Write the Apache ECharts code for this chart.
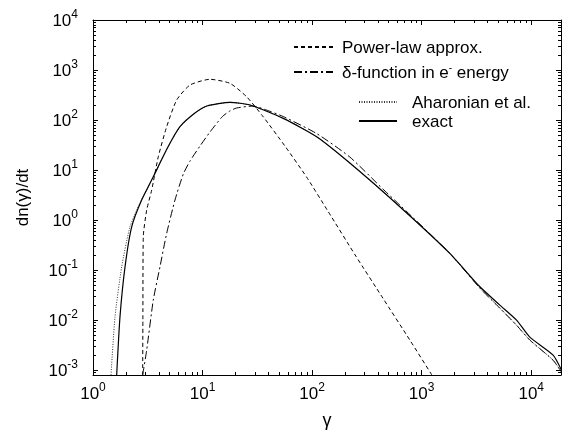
<!DOCTYPE html>
<html>
<head>
<meta charset="utf-8">
<script src="https://cdn.jsdelivr.net/npm/echarts@6/dist/echarts.min.js"></script>
<style>html,body{margin:0;padding:0;background:#fff}#c{width:562px;height:433px}</style>
</head>
<body>
<div id="c"></div>
<script>
// ---- data ----
const gammaPower = [2.841, 2.853, 2.877, 3.09, 3.433, 3.944, 4.704, 5.803, 7.674, 11.68, 17.78, 25.26, 35.8, 56.5, 89.1, 139.4, 250.9, 442.6, 780, 1239];
const powerLaw   = [8e-4, 0.01, 0.4634, 1.585, 3.98, 18.45, 73.5, 251, 501, 652, 542, 292, 116, 30.2, 7.24, 1.51, 0.19, 0.0275, 0.004, 8e-4];

const gammaDelta = [2.841, 3.09, 3.55, 4.087, 4.704, 5.6, 6.67, 7.674, 9.47, 11.68, 15.03, 17.41, 20.47, 28.84, 38.5, 54.5, 110, 221, 443, 632, 1807, 3400, 5170, 7350, 9710, 15850, 18900];
const deltaFn    = [8e-4, 0.00251, 0.0251, 0.1164, 0.542, 2.51, 8.32, 15.1, 30.2, 57.5, 115, 148, 174, 190.5, 158, 117.5, 53.7, 18.2, 4.17, 2.0, 0.216, 0.0437, 0.0174, 0.0079, 0.004, 0.00158, 9.1e-4];

const gammaAhar  = [1.46, 1.588, 1.827, 2.175, 2.68, 3.43, 4.83, 6.22, 8.52, 10.97, 17.8, 27.1, 54.5, 110, 221, 632, 1807, 3400, 5170, 7350, 9710, 15850, 18900];
const aharonian  = [8e-4, 0.0116, 0.116, 0.734, 2.19, 6.31, 28.8, 73.5, 138, 190.5, 226, 200, 108, 46.3, 13.8, 1.85, 0.216, 0.0437, 0.0174, 0.0079, 0.004, 0.00158, 9.1e-4];

const gammaExact = [1.645, 1.763, 1.96, 2.255, 2.78, 3.55, 4.83, 6.22, 8.52, 10.97, 17.8, 27.1, 54.5, 110, 221, 632, 1807, 3400, 5170, 7350, 9710, 15850, 18900];
const exact      = [8e-4, 0.0116, 0.116, 0.734, 2.51, 7.35, 28.8, 73.5, 138, 190.5, 226, 200, 108, 46.3, 13.8, 1.85, 0.216, 0.0464, 0.02, 0.01, 0.00457, 0.002, 0.001];

const xMajorTicks = [1, 10, 100, 1000, 10000];
const yMajorTicks = [1e-3, 1e-2, 1e-1, 1, 10, 100, 1000, 10000];

const names = ['Power-law approx.', 'δ-function in e- energy', 'Aharonian et al.', 'exact'];

// ---- helpers ----
const X_MIN = 1, X_MAX = 1.87e4, Y_MIN = 8e-4, Y_MAX = 1e4;
function minorTicks(lo, hi) {
  const out = [];
  for (let e = Math.floor(Math.log10(lo)); e <= Math.ceil(Math.log10(hi)); e++) {
    for (let m = 2; m <= 9; m++) {
      const v = m * Math.pow(10, e);
      if (v > lo && v < hi) out.push(v);
    }
  }
  return out;
}
const FONT = 'Liberation Sans, Arial, sans-serif';
const supRich = {
  b: { fontSize: 17, fontFamily: FONT, color: '#000', verticalAlign: 'bottom', lineHeight: 20 },
  s: { fontSize: 12, fontFamily: FONT, color: '#000', verticalAlign: 'bottom', padding: [0, 0, 9, 0], lineHeight: 20 }
};
function pow10Label(v) {
  const e = Math.round(Math.log10(v));
  return '{b|10}{s|' + e + '}';
}
function axis(pos, min, max, ticks, len, labels, line, margin, extra) {
  const a = {
    type: 'log', logBase: 10, min: min, max: max, position: pos,
    splitLine: { show: false },
    axisLine: { show: line, onZero: false, lineStyle: { color: '#000', width: 1 } },
    axisTick: { show: true, inside: true, length: len, customValues: ticks, lineStyle: { color: '#000', width: 1 } },
    axisLabel: labels ? { show: true, customValues: ticks, formatter: pow10Label, rich: supRich, margin: margin } : { show: false },
    axisPointer: { show: false }
  };
  return Object.assign(a, extra || {});
}
const xMinor = minorTicks(X_MIN, X_MAX);
const yMinor = minorTicks(Y_MIN, Y_MAX);

const xAxes = [
  axis('bottom', X_MIN, X_MAX, xMajorTicks, 5, true, true, 8, {
    name: 'γ', nameLocation: 'middle', nameGap: 37,
    nameTextStyle: { fontSize: 18, fontFamily: FONT, color: '#000' }
  }),
  axis('bottom', X_MIN, X_MAX, xMinor, 3, false, false),
  axis('top', X_MIN, X_MAX, xMajorTicks, 5, false, true),
  axis('top', X_MIN, X_MAX, xMinor, 3, false, false)
];
const yAxes = [
  axis('left', Y_MIN, Y_MAX, yMajorTicks, 5, true, true, 15, {
    name: 'dn(γ)/dt', nameLocation: 'middle', nameGap: 61, nameRotate: 90,
    nameTextStyle: { fontSize: 17, fontFamily: FONT, color: '#000' }
  }),
  axis('left', Y_MIN, Y_MAX, yMinor, 3, false, false),
  axis('right', Y_MIN, Y_MAX, yMajorTicks, 5, false, true),
  axis('right', Y_MIN, Y_MAX, yMinor, 3, false, false)
];

function zip(xs, ys) { return xs.map((x, i) => [x, ys[i]]); }
function lineSeries(name, xs, ys, type, color, width) {
  return {
    name: name, type: 'line', xAxisIndex: 0, yAxisIndex: 0,
    data: zip(xs, ys), symbol: 'none', smooth: 0.2, clip: true,
    lineStyle: { color: color, width: width, type: type },
    itemStyle: { color: color },
    emphasis: { disabled: true }, silent: true
  };
}

const legendText = {
  fontSize: 17, fontFamily: FONT, color: '#000', padding: [0, 0, 0, 4],
  rich: {
    t: { fontSize: 17, fontFamily: FONT, color: '#000', verticalAlign: 'bottom', lineHeight: 20 },
    s: { fontSize: 10, fontFamily: FONT, color: '#000', verticalAlign: 'bottom', padding: [0, 0, 9, 0], lineHeight: 20 }
  }
};
function legendFmt(n) {
  if (n.indexOf('e- energy') >= 0) return '{t|δ-function in e}{s|-}{t| energy}';
  return '{t|' + n + '}';
}

const option = {
  animation: false,
  backgroundColor: '#fff',
  grid: { left: 93, top: 20, right: 1, bottom: 58, outerBoundsMode: 'none', containLabel: false },
  xAxis: xAxes,
  yAxis: yAxes,
  legend: [
    { data: [names[0], names[1]], orient: 'vertical', left: 288, top: 35, itemWidth: 39, itemHeight: 14, itemGap: 6,
      itemStyle: { opacity: 0 }, textStyle: legendText, formatter: legendFmt, selectedMode: false },
    { data: [names[2], names[3]], orient: 'vertical', left: 353, top: 90, itemWidth: 38, itemHeight: 14, itemGap: 2,
      itemStyle: { opacity: 0 }, textStyle: Object.assign({}, legendText, { padding: [0, 0, 0, 10] }), formatter: legendFmt, selectedMode: false }
  ],
  series: [
    lineSeries(names[0], gammaPower, powerLaw, [4, 3], '#000', 1),
    lineSeries(names[1], gammaDelta, deltaFn, [8, 3, 2, 3], '#000', 1),
    lineSeries(names[2], gammaAhar, aharonian, [1, 1.5], '#333', 1),
    lineSeries(names[3], gammaExact, exact, 'solid', '#000', 1.2)
  ]
};
const chart = echarts.init(document.getElementById('c'), null, { renderer: 'canvas' });
chart.setOption(option);
</script>
</body>
</html>
